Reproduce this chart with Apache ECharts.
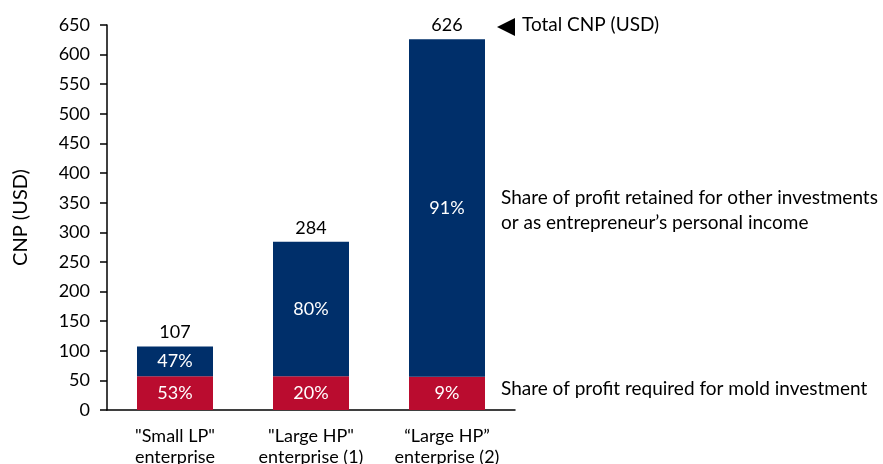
<!DOCTYPE html>
<html>
<head>
<meta charset="utf-8">
<script src="https://cdn.jsdelivr.net/npm/echarts@6/dist/echarts.min.js"></script>
<style>
  html, body { margin: 0; padding: 0; background: #fff; }
  #chart { width: 883px; height: 464px; }
</style>
</head>
<body>
<div id="chart"></div>
<script>
const categories = ['"Small LP"\nenterprise', '"Large HP"\nenterprise (1)', '\u201CLarge HP\u201D\nenterprise (2)'];
const moldValues = [57, 57, 56];
const retainedValues = [50, 227, 570];
const totals = [107, 284, 626];
const moldShares = ['53%', '20%', '9%'];
const retainedShares = ['47%', '80%', '91%'];
const yTicks = [0, 650, 50]; // min, max, interval

const FONT = 'Lato';
const BLUE = '#002f6a';
const RED = '#ba0c2f';

const chart = echarts.init(document.getElementById('chart'));

chart.setOption({
  animation: false,
  textStyle: { fontFamily: FONT, color: '#000' },
  grid: { left: 107, top: 25, right: 368, bottom: 54, outerBoundsMode: 'none', containLabel: false },
  xAxis: {
    type: 'category',
    data: categories,
    axisLine: { lineStyle: { color: '#000', width: 1.5 } },
    axisTick: { show: false },
    axisLabel: { interval: 0, fontFamily: FONT, fontSize: 18, color: '#000', lineHeight: 21, margin: 16 }
  },
  yAxis: {
    type: 'value',
    min: yTicks[0],
    max: yTicks[1],
    interval: yTicks[2],
    name: 'CNP (USD)',
    nameLocation: 'middle',
    nameGap: 76,
    nameRotate: 90,
    nameTextStyle: { fontFamily: FONT, fontSize: 20, color: '#000' },
    splitLine: { show: false },
    axisLine: { show: true, lineStyle: { color: '#000', width: 1.5 } },
    axisTick: { show: true, length: 7, lineStyle: { color: '#000', width: 1.5 } },
    axisLabel: { fontFamily: FONT, fontSize: 18, color: '#000', margin: 17 }
  },
  series: [
    {
      name: 'mold',
      type: 'bar',
      stack: 'cnp',
      barWidth: 76,
      data: moldValues,
      itemStyle: { color: RED },
      label: {
        show: true, position: 'inside', color: '#fff', fontFamily: FONT, fontSize: 18,
        formatter: p => moldShares[p.dataIndex]
      }
    },
    {
      name: 'retained',
      type: 'bar',
      stack: 'cnp',
      barWidth: 76,
      data: retainedValues,
      itemStyle: { color: BLUE },
      label: {
        show: true, position: 'inside', color: '#fff', fontFamily: FONT, fontSize: 18,
        formatter: p => retainedShares[p.dataIndex]
      }
    },
    {
      name: 'total',
      type: 'scatter',
      data: totals,
      symbolSize: 0,
      silent: true,
      itemStyle: { opacity: 1 },
      label: {
        show: true, position: 'top', distance: 5, color: '#000', opacity: 1,
        fontFamily: FONT, fontSize: 18,
        formatter: p => totals[p.dataIndex]
      }
    }
  ],
  graphic: [
    {
      type: 'polygon',
      shape: { points: [[497, 27], [515, 18], [515, 36]] },
      style: { fill: '#000' }
    },
    {
      type: 'text', left: 522, top: 14,
      style: { text: 'Total CNP (USD)', font: '19px Lato', fill: '#000', lineHeight: 22 }
    },
    {
      type: 'text', left: 501, top: 185,
      style: {
        text: 'Share of profit retained for other investments\nor as entrepreneur\u2019s personal income',
        font: '19px Lato', fill: '#000', lineHeight: 25
      }
    },
    {
      type: 'text', left: 501, top: 378,
      style: { text: 'Share of profit required for mold investment', font: '19px Lato', fill: '#000', lineHeight: 22 }
    }
  ]
});
</script>
</body>
</html>
